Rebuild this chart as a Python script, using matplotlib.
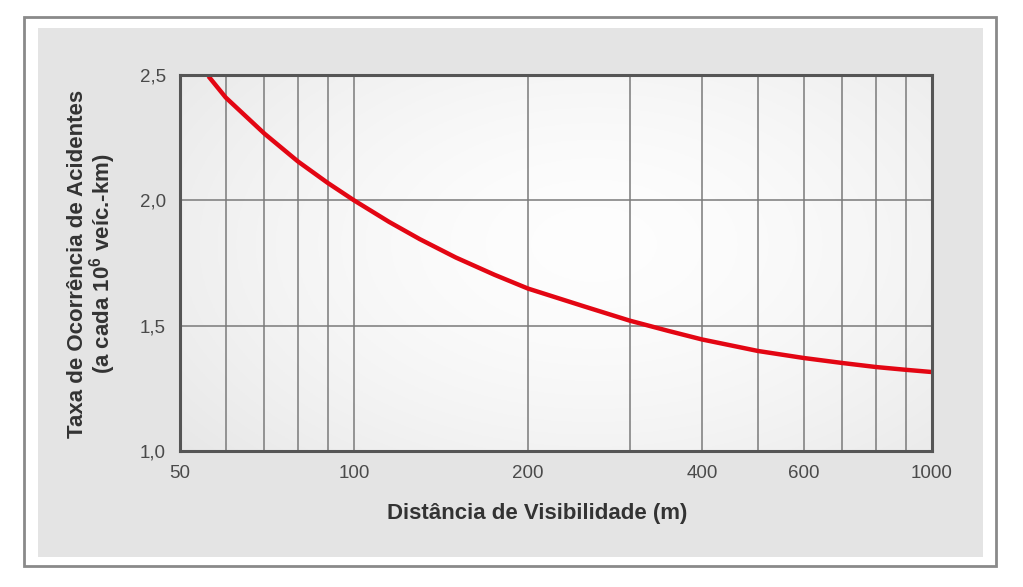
import numpy as np
import matplotlib
matplotlib.use("Agg")
import matplotlib.pyplot as plt
from matplotlib.patches import Rectangle
from matplotlib.ticker import FixedLocator, NullFormatter

plt.rcParams['font.family'] = ['Liberation Sans', 'DejaVu Sans']
plt.rcParams['mathtext.fontset'] = 'custom'
plt.rcParams['mathtext.rm'] = 'Liberation Sans'
plt.rcParams['mathtext.bf'] = 'Liberation Sans:bold'

# Data
distance_m = [56, 60, 70, 80, 90, 100, 115, 130, 150, 175, 200, 250, 300, 350, 400,
              500, 600, 700, 800, 900, 1000]
accident_rate = [2.495, 2.41, 2.266, 2.155, 2.07, 2.0, 1.914, 1.845, 1.772, 1.703, 1.648,
                 1.577, 1.52, 1.479, 1.445, 1.399, 1.371, 1.351, 1.335, 1.324, 1.315]

x_tick_values = [50, 100, 200, 400, 600, 1000]
x_tick_labels = ["50", "100", "200", "400", "600", "1000"]
x_grid_values = [60, 70, 80, 90, 100, 200, 300, 400, 500, 600, 700, 800, 900]
y_tick_values = [1.0, 1.5, 2.0, 2.5]
y_tick_labels = ["1,0", "1,5", "2,0", "2,5"]

W, H = 1023, 587
fig = plt.figure(figsize=(W / 100, H / 100), dpi=100)
fig.patch.set_facecolor('white')

def fr(x0, y0, x1, y1):
    return (x0 / W, 1 - y1 / H, (x1 - x0) / W, (y1 - y0) / H)

# outer frame
x, y, w, h = fr(24, 17, 996, 566)
fig.patches.append(Rectangle((x, y), w, h, transform=fig.transFigure,
                             facecolor='white', edgecolor='#8a8a8a', linewidth=2, zorder=-10))
# inner gray panel
x, y, w, h = fr(38, 28, 983, 557)
fig.patches.append(Rectangle((x, y), w, h, transform=fig.transFigure,
                             facecolor='#e4e4e4', edgecolor='none', zorder=-9))

ax = fig.add_axes(fr(180, 75, 932, 451))
ax.set_zorder(1)

# radial gradient background
gx = np.linspace(0, 1, 300)
gy = np.linspace(0, 1, 200)
GX, GY = np.meshgrid(gx, gy)
r = np.sqrt(((GX - 0.55) / 0.75) ** 2 + ((GY - 0.55) / 0.9) ** 2)
r = np.clip(r, 0, 1)
val = 0.995 - 0.095 * r ** 1.6
ax.imshow(np.dstack([val, val, val]), extent=[0, 1, 0, 1], transform=ax.transAxes,
          aspect='auto', zorder=0, origin='lower')

ax.set_xscale('log')
ax.set_xlim(50, 1000)
ax.set_ylim(1.0, 2.5)

ax.plot(distance_m, accident_rate, color='#e30613', linewidth=3.2, zorder=3,
        solid_capstyle='butt', solid_joinstyle='round')

ax.xaxis.set_major_locator(FixedLocator(x_tick_values))
ax.set_xticklabels(x_tick_labels)
ax.xaxis.set_minor_locator(FixedLocator(x_grid_values))
ax.xaxis.set_minor_formatter(NullFormatter())
ax.set_yticks(y_tick_values)
ax.set_yticklabels(y_tick_labels)

for v in x_grid_values:
    ax.axvline(v, color='#7a7a7a', linewidth=1.1, zorder=1)
for v in y_tick_values[1:-1]:
    ax.axhline(v, color='#7a7a7a', linewidth=1.1, zorder=1)

ax.tick_params(axis='both', which='both', length=0, labelsize=13.5, labelcolor='#4a4a4a')
ax.tick_params(axis='x', pad=10)
ax.tick_params(axis='y', pad=10)

for s in ax.spines.values():
    s.set_color('#555555')
    s.set_linewidth(2.2)
    s.set_zorder(4)

fig.text(537.5 / W, 1 - 514 / H, "Distância de Visibilidade (m)", fontsize=16,
         fontweight='bold', color='#333333', ha='center', va='center')
fig.text(78 / W, 1 - 264 / H, "Taxa de Ocorrência de Acidentes",
         fontsize=16, fontweight='bold', color='#333333', ha='center', va='center',
         rotation=90)
fig.text(103 / W, 1 - 264 / H, "(a cada $\\mathbf{10^{6}}$ veíc.-km)",
         fontsize=16, fontweight='bold', color='#333333', ha='center', va='center',
         rotation=90)

fig.savefig("out.png", dpi=100, facecolor='white')
